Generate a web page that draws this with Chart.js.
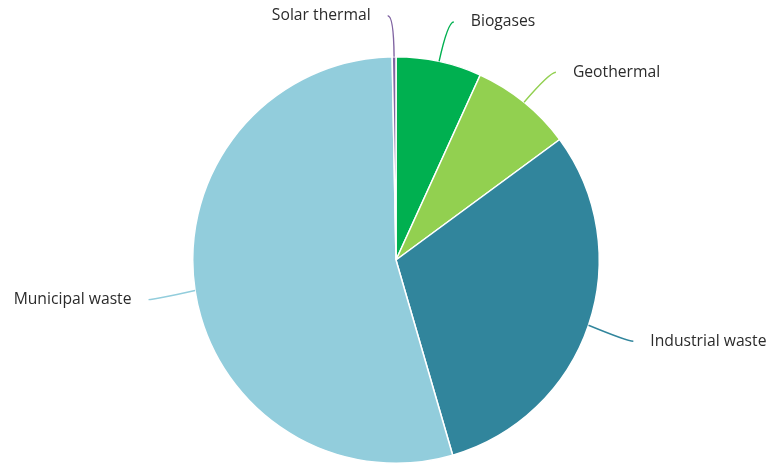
<!DOCTYPE html>
<html>
<head>
<meta charset="utf-8">
<script src="https://cdn.jsdelivr.net/npm/chart.js@4"></script>
<style>
  html, body { margin: 0; padding: 0; background: #fff; overflow: hidden; }
  #wrap { width: 773px; height: 464px; position: relative; }
</style>
</head>
<body>
<div id="wrap"><canvas id="myChart"></canvas></div>
<script>
// sources, clockwise from the top
let categories = ["Biogases", "Geothermal", "Industrial waste", "Municipal waste", "Solar thermal"];
let shares = [6.8, 8.1, 30.6, 54.2, 0.3];
let sliceColors = ["#00b050", "#92d050", "#31859c", "#92cddc", "#8064a2"];

// labels with curved leader lines, drawn outside the pie
const outsideLabels = {
  id: "outsideLabels",
  afterDraw(chart) {
    const ctx = chart.ctx;
    const meta = chart.getDatasetMeta(0);
    ctx.save();
    ctx.font = "15.7px 'Open Sans'";
    ctx.textBaseline = "middle";
    meta.data.forEach((arc, i) => {
      const p = arc.getProps(["x", "y", "startAngle", "endAngle", "outerRadius"], true);
      const mid = (p.startAngle + p.endAngle) / 2;
      const c = Math.cos(mid), s = Math.sin(mid);
      const ex = p.x + p.outerRadius * c, ey = p.y + p.outerRadius * s;
      const ax = p.x + (p.outerRadius + 41) * c;
      const ay = p.y + (p.outerRadius + 41) * s + 3 * Math.abs(c);
      const side = c >= 0 ? 1 : -1;
      const endX = ax + side * 6;
      ctx.beginPath();
      ctx.strokeStyle = sliceColors[i];
      ctx.lineWidth = 1.4;
      ctx.moveTo(ex, ey);
      ctx.quadraticCurveTo(ax, ay, endX, ay);
      ctx.stroke();
      ctx.fillStyle = "#2b2b2b";
      ctx.textAlign = side > 0 ? "left" : "right";
      ctx.fillText(categories[i], endX + side * 17, ay);
    });
    ctx.restore();
  }
};

let myChart = document.getElementById("myChart").getContext("2d");
let chart = new Chart(myChart, {
  type: "pie",
  data: {
    labels: categories,
    datasets: [{
      data: shares,
      backgroundColor: sliceColors,
      borderColor: "#ffffff",
      borderWidth: 1.5
    }]
  },
  options: {
    responsive: true,
    maintainAspectRatio: false,
    animation: false,
    layout: {
      padding: { top: 56, bottom: -2, left: 19, right: 0 }
    },
    plugins: {
      legend: { display: false },
      tooltip: { enabled: false }
    }
  },
  plugins: [outsideLabels]
});
</script>
</body>
</html>
